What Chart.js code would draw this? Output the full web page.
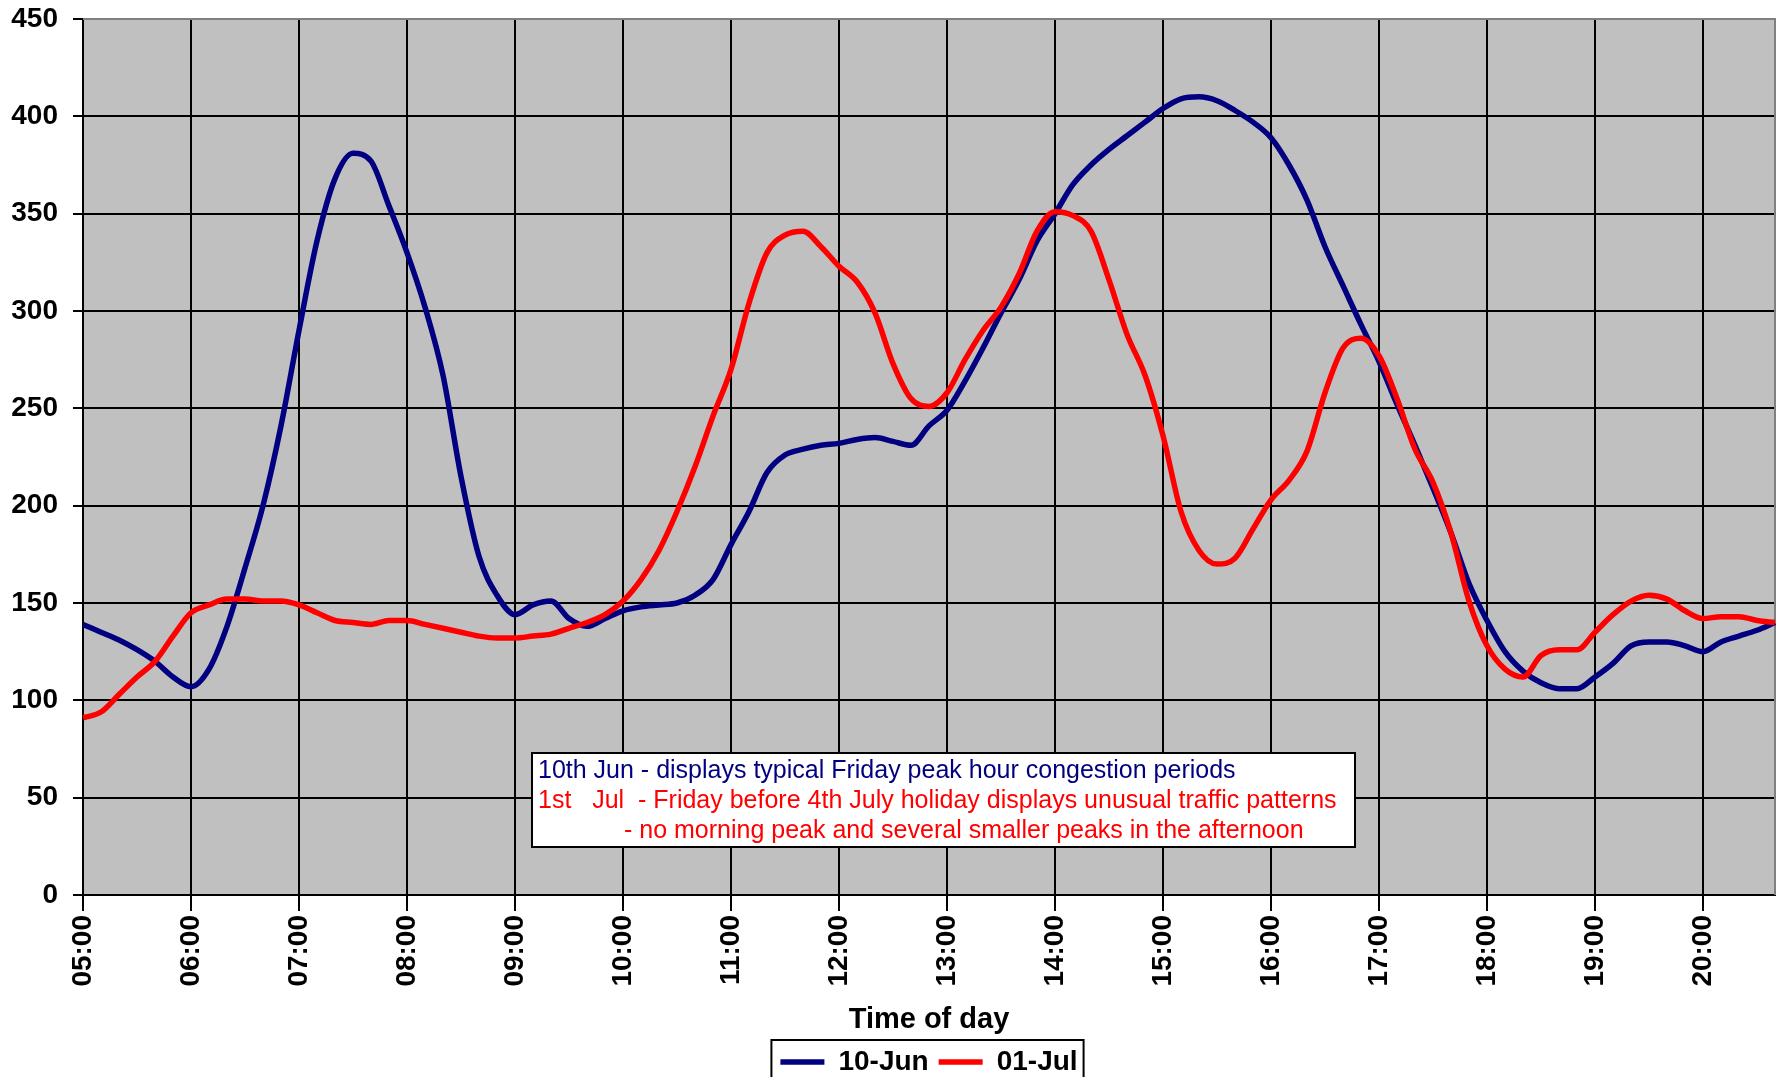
<!DOCTYPE html>
<html>
<head>
<meta charset="utf-8">
<title>Traffic volume by time of day</title>
<script src="https://cdn.jsdelivr.net/npm/chart.js@4.4.1/dist/chart.umd.min.js"></script>
<style>
    html, body { margin: 0; padding: 0; background: #ffffff; }
    #wrap { width: 1782px; height: 1077px; position: relative; }
</style>
</head>
<body>
<div id="wrap"><canvas id="trafficChart"></canvas></div>
<script>
// 10 minute samples, 05:00 - 20:40
const timeLabels = [
    '05:00', '05:10', '05:20', '05:30', '05:40', '05:50',
    '06:00', '06:10', '06:20', '06:30', '06:40', '06:50',
    '07:00', '07:10', '07:20', '07:30', '07:40', '07:50',
    '08:00', '08:10', '08:20', '08:30', '08:40', '08:50',
    '09:00', '09:10', '09:20', '09:30', '09:40', '09:50',
    '10:00', '10:10', '10:20', '10:30', '10:40', '10:50',
    '11:00', '11:10', '11:20', '11:30', '11:40', '11:50',
    '12:00', '12:10', '12:20', '12:30', '12:40', '12:50',
    '13:00', '13:10', '13:20', '13:30', '13:40', '13:50',
    '14:00', '14:10', '14:20', '14:30', '14:40', '14:50',
    '15:00', '15:10', '15:20', '15:30', '15:40', '15:50',
    '16:00', '16:10', '16:20', '16:30', '16:40', '16:50',
    '17:00', '17:10', '17:20', '17:30', '17:40', '17:50',
    '18:00', '18:10', '18:20', '18:30', '18:40', '18:50',
    '19:00', '19:10', '19:20', '19:30', '19:40', '19:50',
    '20:00', '20:10', '20:20', '20:30', '20:40'
];

const jun10 = [
    139, 135, 131, 126, 120, 112,
    107, 116, 138, 168, 200, 241,
    290, 336, 368, 381, 377, 354,
    330, 302, 267, 215, 174, 154,
    144, 149, 151, 142, 138, 142,
    146, 148, 149, 150, 154, 162,
    180, 197, 217, 226, 229, 231,
    232, 234, 235, 233, 231, 241,
    249, 264, 281, 299, 316, 336,
    350, 365, 375, 383, 390, 397,
    404, 409, 410, 408, 403, 397,
    389, 375, 357, 333, 313, 293,
    274, 252, 231, 209, 186, 160,
    141, 125, 115, 109, 106, 106,
    112, 119, 128, 130, 130, 128,
    125, 130, 133, 136, 140
];

const jul01 = [
    91, 94, 103, 112, 120, 133,
    145, 149, 152, 152, 151, 151,
    149, 145, 141, 140, 139, 141,
    141, 139, 137, 135, 133, 132,
    132, 133, 134, 137, 140, 144,
    151, 162, 177, 197, 220, 246,
    270, 304, 330, 339, 341, 333,
    323, 315, 299, 273, 255, 251,
    258, 275, 290, 302, 319, 341,
    351, 349, 341, 316, 288, 267,
    236, 197, 177, 170, 173, 188,
    203, 213, 228, 258, 281, 286,
    277, 255, 229, 212, 186, 151,
    128, 116, 112, 123, 126, 126,
    135, 144, 151, 154, 152, 146,
    142, 143, 143, 141, 140
];

const noteLines = [
    { text: '10th Jun - displays typical Friday peak hour congestion periods', color: '#000080', dx: 0 },
    { text: '1st   Jul  - Friday before 4th July holiday displays unusual traffic patterns', color: '#ff0000', dx: 0 },
    { text: '- no morning peak and several smaller peaks in the afternoon', color: '#ff0000', dx: 86 }
];

const FONT = '"Liberation Sans", Arial, sans-serif';
Chart.defaults.font.family = FONT;
Chart.defaults.color = '#000';

// grey plot area + thin frame on top/right like the excel chart
const plotBackground = {
    id: 'plotBackground',
    beforeDraw(chart) {
        const { ctx, chartArea: a } = chart;
        ctx.save();
        ctx.fillStyle = '#c0c0c0';
        ctx.fillRect(a.left, a.top, a.right - a.left, a.bottom - a.top);
        ctx.restore();
    },
    beforeDatasetsDraw(chart) {
        const { ctx, chartArea: a } = chart;
        ctx.save();
        ctx.strokeStyle = '#808080';
        ctx.lineWidth = 2;
        ctx.beginPath();
        ctx.moveTo(a.left, a.top);
        ctx.lineTo(a.right, a.top);
        ctx.lineTo(a.right, a.bottom);
        ctx.stroke();
        ctx.restore();
    }
};

// the text box in the lower middle of the plot
const noteBox = {
    id: 'noteBox',
    afterDatasetsDraw(chart) {
        const { ctx } = chart;
        const x = 532, y = 753, w = 823, h = 94;
        ctx.save();
        ctx.fillStyle = '#ffffff';
        ctx.fillRect(x, y, w, h);
        ctx.strokeStyle = '#000';
        ctx.lineWidth = 2;
        ctx.strokeRect(x, y, w, h);
        ctx.font = '25px ' + FONT;
        ctx.textBaseline = 'alphabetic';
        noteLines.forEach((line, i) => {
            ctx.fillStyle = line.color;
            ctx.fillText(line.text, x + 6 + line.dx, y + 25 + i * 30);
        });
        ctx.restore();
    }
};

// excel draws a frame round the legend
const legendFrame = {
    id: 'legendFrame',
    afterDraw(chart) {
        const boxes = chart.legend.legendHitBoxes;
        if (!boxes || !boxes.length) return;
        const first = boxes[0];
        const last = boxes[boxes.length - 1];
        const left = first.left - 9;
        const right = last.left + last.width + 6;
        const top = first.top - 8;
        const ctx = chart.ctx;
        ctx.save();
        ctx.strokeStyle = '#000';
        ctx.lineWidth = 2;
        ctx.strokeRect(left, top, right - left, chart.height - top + 10);
        ctx.restore();
    }
};

const isHour = i => timeLabels[i] && timeLabels[i].endsWith(':00');

const ctx = document.getElementById('trafficChart').getContext('2d');
const trafficChart = new Chart(ctx, {
    type: 'line',
    data: {
        labels: timeLabels,
        datasets: [{
            label: '10-Jun',
            data: jun10,
            borderColor: '#000080',
            backgroundColor: '#000080',
            borderWidth: 5.5,
            pointRadius: 0,
            cubicInterpolationMode: 'monotone',
            order: 1
        }, {
            label: '01-Jul',
            data: jul01,
            borderColor: '#ff0000',
            backgroundColor: '#ff0000',
            borderWidth: 5.5,
            pointRadius: 0,
            cubicInterpolationMode: 'monotone',
            order: 0
        }]
    },
    options: {
        responsive: true,
        maintainAspectRatio: false,
        animation: false,
        layout: {
            padding: { top: 19, right: 7, left: 0, bottom: -9 }
        },
        plugins: {
            legend: {
                position: 'bottom',
                fullSize: false,
                labels: {
                    usePointStyle: true,
                    pointStyle: 'line',
                    pointStyleWidth: 44,
                    padding: 10,
                    color: '#000',
                    font: { size: 28, weight: 'bold', family: FONT },
                    sort: (a, b) => a.datasetIndex - b.datasetIndex
                }
            },
            tooltip: { enabled: false }
        },
        scales: {
            x: {
                type: 'category',
                offset: false,
                grid: {
                    color: c => isHour(c.index) ? '#000' : 'rgba(0,0,0,0)',
                    lineWidth: 2,
                    tickLength: 16
                },
                border: { color: '#000', width: 2 },
                ticks: {
                    autoSkip: false,
                    maxRotation: 90,
                    minRotation: 90,
                    padding: 4,
                    color: '#000',
                    font: { size: 28, weight: 'bold', family: FONT },
                    callback: (value, i) => isHour(i) ? timeLabels[i] : ''
                },
                title: {
                    display: true,
                    text: 'Time of day',
                    color: '#000',
                    font: { size: 29, weight: 'bold', family: FONT },
                    padding: { top: 0, bottom: 1 }
                },
                afterFit: scale => {
                    scale.height = 143;
                    scale.paddingLeft = 0;
                    scale.paddingRight = 0;
                }
            },
            y: {
                min: 0,
                max: 450,
                grid: { color: '#000', lineWidth: 2, tickLength: 10 },
                border: { color: '#000', width: 2 },
                ticks: {
                    stepSize: 50,
                    padding: 15,
                    color: '#000',
                    font: { size: 28, weight: 'bold', family: FONT }
                },
                afterFit: scale => {
                    scale.width = 83;
                    scale.paddingTop = 0;
                    scale.paddingBottom = 0;
                }
            }
        }
    },
    plugins: [plotBackground, noteBox, legendFrame]
});
</script>
</body>
</html>
